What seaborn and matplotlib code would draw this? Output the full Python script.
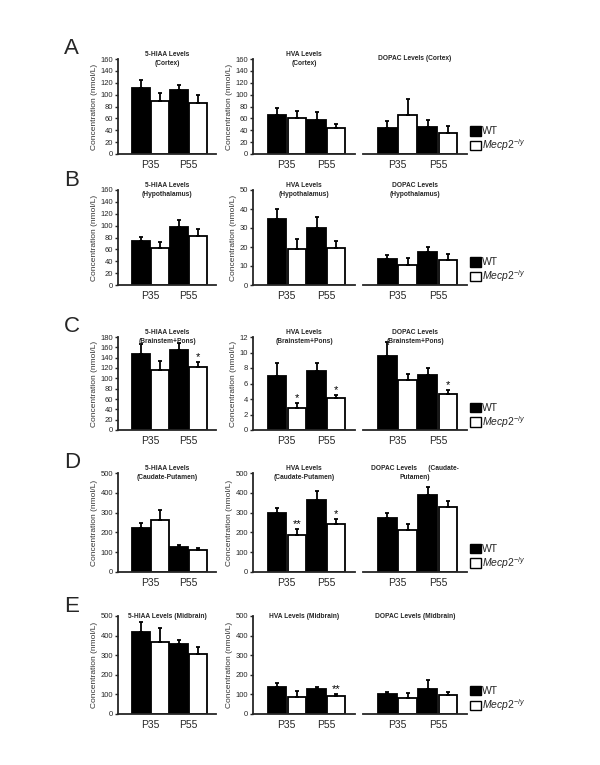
import numpy as np
import pandas as pd
import seaborn as sns
import matplotlib.pyplot as plt
from matplotlib.patches import Patch

# bar order in every panel: WT P35, Mecp2 P35, WT P55, Mecp2 P55
ages = ["P35", "P55"]
genotypes = ["WT", "KO"]
rows = ["A", "B", "C", "D", "E"]

cortex_mean = [[112, 89, 108, 86], [66, 60, 58, 43], [43, 65, 46, 36]]
cortex_sem = [[13, 14, 9, 13], [11, 13, 13, 8], [13, 27, 11, 11]]
hypo_mean = [[74, 62, 97, 83], [34.7, 19.2, 30.2, 19.6], [13.7, 10.7, 17.4, 13.0]]
hypo_sem = [[7, 11, 13, 10.5], [5.3, 4.8, 5.8, 3.5], [1.9, 3.3, 2.7, 3.4]]
brainstem_mean = [[148, 117, 155, 122], [6.95, 2.9, 7.6, 4.1], [9.55, 6.5, 7.05, 4.65]]
brainstem_sem = [[19, 17, 14, 9], [1.75, 0.6, 1.0, 0.45], [1.85, 0.7, 0.95, 0.5]]
caudate_mean = [[221, 263, 128, 110], [298, 185, 366, 240], [275, 211, 389, 326]]
caudate_sem = [[26, 49, 10, 10], [24, 30, 44, 28], [24, 29, 41, 35]]
midbrain_mean = [[418, 369, 357, 307], [140, 86, 128, 93], [102, 83, 128, 98]]
midbrain_sem = [[50, 69, 22, 33], [20, 31, 10, 9], [12, 22, 44, 12]]

means = [cortex_mean, hypo_mean, brainstem_mean, caudate_mean, midbrain_mean]
sems = [cortex_sem, hypo_sem, brainstem_sem, caudate_sem, midbrain_sem]

titles = [
    ["5-HIAA Levels\n(Cortex)", "HVA Levels\n(Cortex)", "DOPAC Levels (Cortex)"],
    ["5-HIAA Levels\n(Hypothalamus)", "HVA Levels\n(Hypothalamus)", "DOPAC Levels\n(Hypothalamus)"],
    ["5-HIAA Levels\n(Brainstem+Pons)", "HVA Levels\n(Brainstem+Pons)", "DOPAC Levels\n(Brainstem+Pons)"],
    ["5-HIAA Levels\n(Caudate-Putamen)", "HVA Levels\n(Caudate-Putamen)", "DOPAC Levels      (Caudate-\nPutamen)"],
    ["5-HIAA Levels (Midbrain)", "HVA Levels (Midbrain)", "DOPAC Levels (Midbrain)"],
]

# y-axis max and step for left and middle panels (right panel shares middle)
y_max = [[160, 160], [160, 50], [180, 12], [500, 500], [500, 500]]
y_step = [[20, 20], [20, 10], [20, 2], [100, 100], [100, 100]]

stars = [
    [[], [], []],
    [[], [], []],
    [[(3, "*")], [(1, "*"), (3, "*")], [(3, "*")]],
    [[], [(1, "**"), (3, "*")], []],
    [[], [(3, "**")], []],
]

sns.set_style("white")
plt.rcParams["font.family"] = ["Liberation Sans", "DejaVu Sans"]
plt.rcParams["mathtext.fontset"] = "custom"
plt.rcParams["mathtext.rm"] = "Liberation Sans"
plt.rcParams["mathtext.it"] = "Liberation Sans:italic"

fig = plt.figure(figsize=(6, 7.65), dpi=100)

row_top = [59, 190, 337, 473, 616]
row_bot = [154, 285, 430, 572, 714]
col_x = [(118, 216), (253, 355), (363, 467)]
W, H = 600.0, 765.0

for r in range(5):
    for c in range(3):
        x0, x1 = col_x[c]
        ax = fig.add_axes([x0 / W, 1 - row_bot[r] / H, (x1 - x0) / W,
                           (row_bot[r] - row_top[r]) / H])
        vals = means[r][c]
        errs = sems[r][c]
        df = pd.DataFrame({
            "age": [ages[0], ages[0], ages[1], ages[1]],
            "genotype": [genotypes[0], genotypes[1], genotypes[0], genotypes[1]],
            "value": vals,
        })
        sns.barplot(data=df, x="age", y="value", hue="genotype",
                    hue_order=genotypes, order=ages,
                    palette={"WT": "black", "KO": "white"},
                    edgecolor="black", linewidth=1.3, width=1.0, gap=0.08,
                    errorbar=None, legend=False, ax=ax)

        # upper error bars, placed on the bars seaborn drew
        bar_conts = list(ax.containers)
        for h, cont in enumerate(bar_conts):
            for a, bar in enumerate(cont.patches):
                i = a * 2 + h
                xc = bar.get_x() + bar.get_width() / 2
                top = bar.get_height()
                ax.errorbar([xc], [top], yerr=[[0], [errs[i]]], fmt="none",
                            ecolor="black", elinewidth=1.3, capsize=1.2,
                            capthick=1.3, zorder=3)
                for si, s in stars[r][c]:
                    if si == i:
                        ax.text(xc, top + errs[i], s, ha="center", va="bottom",
                                fontsize=8, color="black")

        ym = y_max[r][min(c, 1)]
        ys = y_step[r][min(c, 1)]
        ax.set_ylim(0, ym)
        ax.set_xlim(-0.85, 1.72)
        ax.set_xlabel("")
        ax.tick_params(axis="x", length=0, labelsize=7.5, pad=4)
        sns.despine(ax=ax, top=True, right=True, left=(c == 2))
        ax.spines["bottom"].set_linewidth(1.3)
        if c < 2:
            ax.set_yticks(np.arange(0, ym + ys / 2, ys))
            ax.tick_params(axis="y", length=2.5, width=1, labelsize=5.5,
                           pad=1, direction="out", left=True)
            ax.spines["left"].set_linewidth(1.3)
            ax.set_ylabel("Concentration (nmol/L)", fontsize=6, color="#333333",
                          labelpad=2)
        else:
            ax.set_yticks([])
            ax.set_ylabel("")
        ax.text(0.5, 1.0, titles[r][c], transform=ax.transAxes, ha="center",
                va="center", fontsize=4.8, fontweight="bold", linespacing=1.3)

        if c == 2:
            handles = [Patch(facecolor="black", edgecolor="black"),
                       Patch(facecolor="white", edgecolor="black")]
            ax.legend(handles, ["WT", r"$\mathit{Mecp2}^{-/y}$"],
                      loc="center left", bbox_to_anchor=(1.03, 0.15),
                      frameon=False, fontsize=7.5, handlelength=1.0,
                      handleheight=1.0, handletextpad=0.15, labelspacing=0.1,
                      borderpad=0, borderaxespad=0)

    fig.text(64 / W, 1 - (row_top[r] - 10) / H, rows[r], fontsize=16,
             ha="left", va="center")

fig.savefig("out.png", dpi=100)
